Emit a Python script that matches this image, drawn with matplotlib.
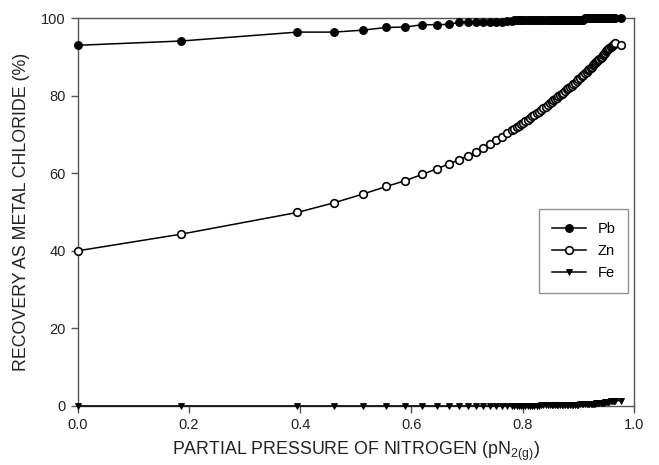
import matplotlib
matplotlib.use("Agg")
import matplotlib.pyplot as plt

plt.rcParams['font.family'] = ['Liberation Sans', 'DejaVu Sans']

# partial pressure of N2 (x), dense toward the end
p_n2 = [0.0, 0.186, 0.395, 0.461, 0.512, 0.555, 0.589, 0.619, 0.645, 0.667,
        0.685, 0.701, 0.716, 0.729, 0.741, 0.752, 0.762, 0.772,
        0.781, 0.785, 0.789, 0.793, 0.797, 0.801, 0.805, 0.809, 0.813, 0.817,
        0.821, 0.825, 0.829, 0.833, 0.837, 0.841, 0.845, 0.849,
        0.852, 0.855, 0.858, 0.861, 0.864, 0.867, 0.870, 0.873, 0.876, 0.879,
        0.882, 0.885, 0.888, 0.891, 0.894, 0.897, 0.900, 0.903, 0.906, 0.909,
        0.912, 0.915, 0.918,
        0.920, 0.922, 0.924, 0.926, 0.928, 0.930, 0.932, 0.934, 0.936, 0.938,
        0.940, 0.942, 0.944, 0.946, 0.948, 0.950, 0.952, 0.954, 0.956, 0.958,
        0.960, 0.962, 0.964, 0.966,
        0.977]

pb = [93.0, 94.1, 96.4, 96.4, 96.9, 97.6, 97.7, 98.3, 98.3, 98.4,
      98.9, 99.0, 99.0, 99.0, 99.1, 99.1, 99.1, 99.2,
      99.3, 99.5, 99.5, 99.5, 99.5, 99.5, 99.5, 99.5, 99.5, 99.5,
      99.5, 99.5, 99.5, 99.6, 99.6, 99.6, 99.6, 99.6,
      99.6, 99.6, 99.6, 99.6, 99.6, 99.6, 99.6, 99.6, 99.6, 99.6,
      99.6, 99.6, 99.6, 99.6, 99.6, 99.6, 99.6, 99.6, 99.6, 99.6,
      100.0, 100.0, 100.0,
      100.0, 100.0, 100.0, 100.0, 100.0, 100.0, 100.0, 100.0, 100.0, 100.0,
      100.0, 100.0, 100.0, 100.0, 100.0, 100.0, 100.0, 100.0, 100.0, 100.0,
      100.0, 100.0, 100.0, 100.0,
      100.0]

zn = [40.0, 44.3, 49.9, 52.4, 54.6, 56.6, 58.1, 59.7, 61.1, 62.4,
      63.4, 64.5, 65.6, 66.6, 67.6, 68.5, 69.4, 70.3,
      71.1, 71.5, 71.9, 72.3, 72.6, 73.0, 73.4, 73.8, 74.2, 74.7,
      75.1, 75.5, 75.9, 76.3, 76.8, 77.2, 77.7, 78.1,
      78.4, 78.8, 79.1, 79.5, 79.8, 80.2, 80.5, 80.8, 81.2, 81.6,
      81.9, 82.3, 82.6, 83.0, 83.4, 83.8, 84.2, 84.6, 85.0, 85.4,
      85.8, 86.2, 86.7,
      87.0, 87.2, 87.5, 87.8, 88.1, 88.4, 88.7, 89.0, 89.2, 89.5,
      89.8, 90.1, 90.5, 90.8, 91.1, 91.4, 91.7, 92.0, 92.3, 92.6,
      92.9, 93.2, 93.4, 93.6,
      93.2]

fe = [0.0, 0.0, 0.0, 0.0, 0.0, 0.0, 0.0, 0.0, 0.0, 0.0,
      0.0, 0.0, 0.0, 0.0, 0.0, 0.0, 0.0, 0.0,
      0.0, 0.0, 0.0, 0.05, 0.05, 0.05, 0.05, 0.1, 0.1, 0.1,
      0.1, 0.1, 0.1, 0.15, 0.15, 0.15, 0.15, 0.15,
      0.2, 0.2, 0.2, 0.2, 0.2, 0.25, 0.25, 0.25, 0.25, 0.3,
      0.3, 0.3, 0.3, 0.3, 0.35, 0.35, 0.35, 0.4, 0.4, 0.4,
      0.45, 0.45, 0.45,
      0.5, 0.5, 0.55, 0.55, 0.6, 0.6, 0.65, 0.65, 0.7, 0.7,
      0.75, 0.8, 0.85, 0.85, 0.9, 0.95, 1.0, 1.05, 1.1, 1.15,
      1.2, 1.25, 1.3, 1.35,
      1.4]

fig = plt.figure(figsize=(6.59, 4.65), dpi=100)
ax = fig.add_axes([0.118, 0.127, 0.844, 0.834])

ax.plot(p_n2, pb, color='black', lw=1.1, marker='o', ms=5.5, mfc='black',
        mec='black', mew=0.9, label='Pb', clip_on=False, zorder=3)
ax.plot(p_n2, zn, color='black', lw=1.1, marker='o', ms=5.5, mfc='white',
        mec='black', mew=1.2, label='Zn', clip_on=False, zorder=3)
ax.plot(p_n2, fe, color='black', lw=1.1, marker='v', ms=5, mfc='black',
        mec='black', mew=0.6, label='Fe', clip_on=False, zorder=3)

ax.set_xlim(0, 1.0)
ax.set_ylim(0, 100)
ax.set_xticks([0.0, 0.2, 0.4, 0.6, 0.8, 1.0])
ax.set_xticklabels(['0.0', '0.2', '0.4', '0.6', '0.8', '1.0'])
ax.set_yticks([0, 20, 40, 60, 80, 100])

for s in ax.spines.values():
    s.set_color('#555555')
    s.set_linewidth(1.0)
ax.tick_params(direction='out', length=5, width=1, color='#555555',
               labelsize=10.5, labelcolor='#222222', top=False, right=False)

ax.set_xlabel('PARTIAL PRESSURE OF NITROGEN (pN$_{\\mathregular{2(g)}}$)',
              fontsize=12.8, color='#222222', labelpad=6)
ax.set_ylabel('RECOVERY AS METAL CHLORIDE (%)', fontsize=12.8,
              color='#222222', labelpad=8)

leg = ax.legend(loc='center right', bbox_to_anchor=(1.003, 0.40),
                fancybox=False, edgecolor='#777777', fontsize=10.5,
                handlelength=2.3, borderpad=0.9, labelspacing=0.55)
leg.get_frame().set_linewidth(1.0)

fig.savefig('out.png', dpi=100)
